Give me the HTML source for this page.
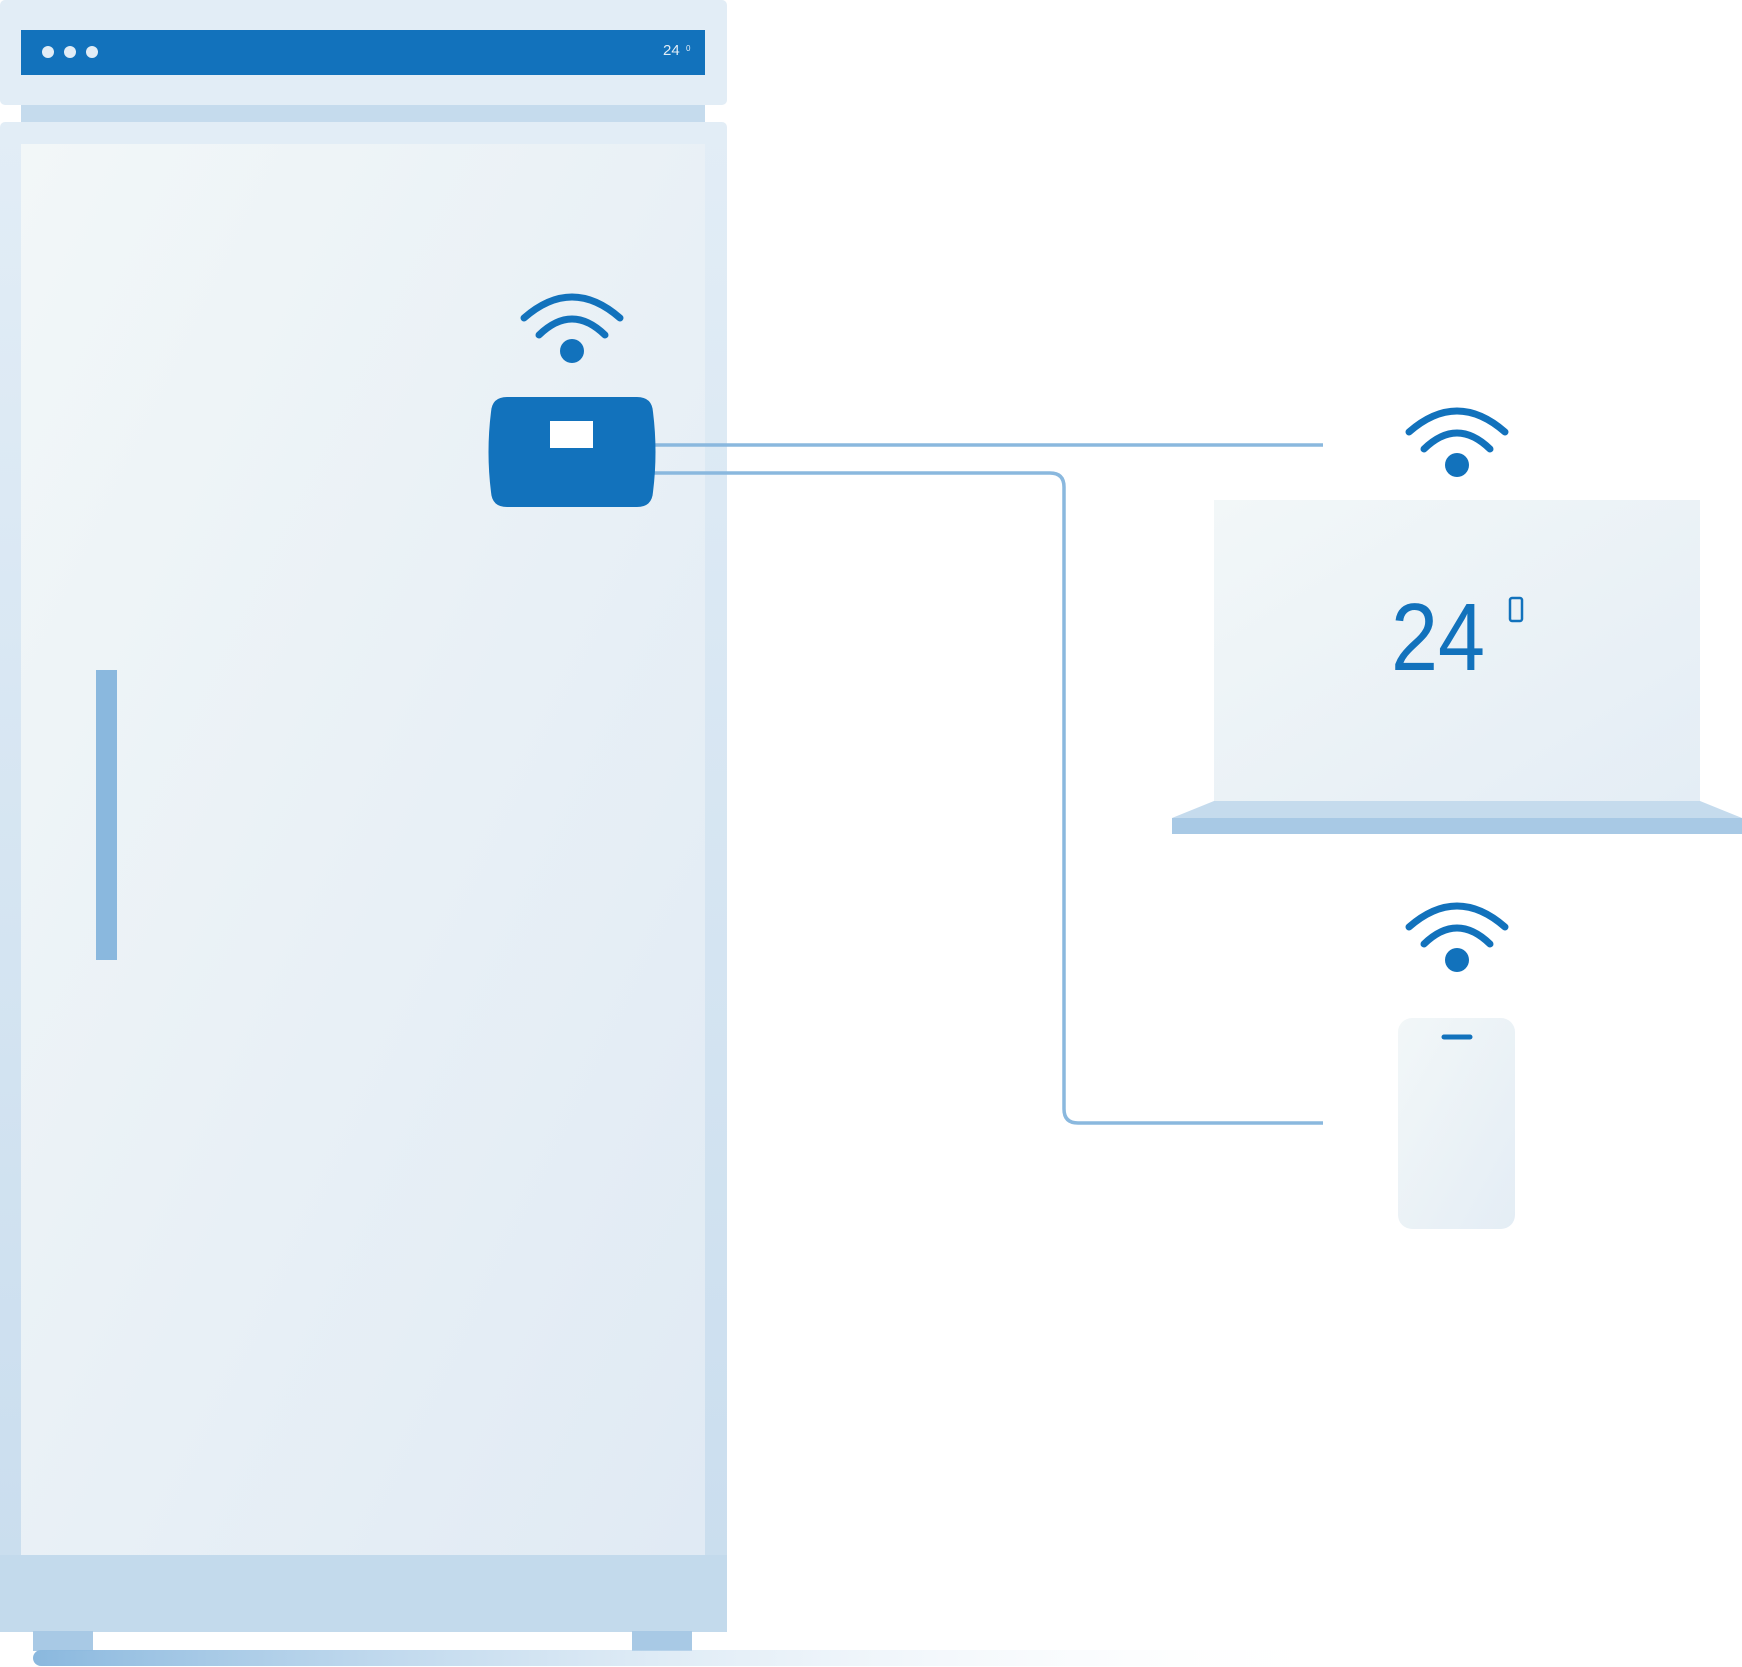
<!DOCTYPE html>
<html><head><meta charset="utf-8"><style>html,body{margin:0;padding:0;background:#fff}svg{display:block}</style></head>
<body>
<svg width="1742" height="1667" viewBox="0 0 1742 1667" xmlns="http://www.w3.org/2000/svg">
<defs>
<linearGradient id="frame" x1="0" y1="0" x2="0" y2="1"><stop offset="0" stop-color="#e2edf6"/><stop offset="1" stop-color="#c9ddee"/></linearGradient>
<linearGradient id="door" x1="0" y1="0" x2="1" y2="1"><stop offset="0" stop-color="#f2f7f8"/><stop offset="1" stop-color="#e0eaf4"/></linearGradient>
<linearGradient id="scr" x1="0" y1="0" x2="1" y2="1"><stop offset="0" stop-color="#f2f7f8"/><stop offset="1" stop-color="#e4edf5"/></linearGradient>
<linearGradient id="floor" x1="0" y1="0" x2="1" y2="0"><stop offset="0" stop-color="#8ab8de"/><stop offset="1" stop-color="#ffffff" stop-opacity="0"/></linearGradient>
<g id="wifi" fill="none" stroke="#1272bc" stroke-width="7" stroke-linecap="round">
<path d="M-48,-33 Q0,-75 48,-33"/><path d="M-33,-16 Q0,-48 33,-16"/><circle cx="0" cy="0" r="12" fill="#1272bc" stroke="none"/>
</g>
</defs>
<rect x="0" y="0" width="727" height="105" rx="5" fill="#e2edf6"/>
<rect x="21" y="30" width="684" height="45" fill="#1272bc"/>
<circle cx="48" cy="52" r="6" fill="#e2edf6"/><circle cx="70" cy="52" r="6" fill="#e2edf6"/><circle cx="92" cy="52" r="6" fill="#e2edf6"/>
<text x="663" y="55" font-family="Liberation Sans Narrow, Liberation Sans, sans-serif" font-size="15" fill="#e2edf6">24</text>
<text x="686" y="51" font-family="Liberation Sans, sans-serif" font-size="8" fill="#e2edf6">0</text>
<rect x="21" y="105" width="684" height="18" fill="#c5dbed"/>
<rect x="0" y="122" width="727" height="1510" rx="5" fill="url(#frame)"/>
<rect x="0" y="1555" width="727" height="77" fill="#c3daec"/>
<rect x="21" y="144" width="684" height="1411" fill="url(#door)"/>
<rect x="96" y="670" width="21" height="290" fill="#8ab8de"/>
<rect x="33" y="1631" width="60" height="20" fill="#a8c9e5"/>
<rect x="632" y="1631" width="60" height="20" fill="#a8c9e5"/>
<rect x="33" y="1650" width="1320" height="16" rx="8" fill="url(#floor)"/>
<g fill="none" stroke="#8ab8de" stroke-width="3.5">
<path d="M650,445 H1323"/>
<path d="M650,473 H1050 Q1064,473 1064,487 V1109 Q1064,1123 1078,1123 H1323"/>
</g>
<path d="M507,397 H637 Q652,397 653,412 Q658,452 653,492 Q652,507 637,507 H507 Q492,507 491,492 Q486,452 491,412 Q492,397 507,397 Z" fill="#1272bc"/>
<rect x="550" y="421" width="43" height="27" fill="#fff"/>
<use href="#wifi" x="572" y="351"/>
<use href="#wifi" x="1457" y="465"/>
<rect x="1214" y="500" width="486" height="301" fill="url(#scr)"/>
<polygon points="1214,801 1700,801 1742,818 1172,818" fill="#c5dbed"/>
<rect x="1172" y="818" width="570" height="16" fill="#a8c9e5"/>
<text x="1391" y="670" font-family="Liberation Sans Narrow, Liberation Sans, sans-serif" font-size="96" fill="#1272bc" textLength="94" lengthAdjust="spacingAndGlyphs">24</text>
<rect x="1510" y="598" width="12" height="23" rx="2" fill="none" stroke="#1272bc" stroke-width="2.5"/>
<use href="#wifi" x="1457" y="960"/>
<rect x="1398" y="1018" width="117" height="211" rx="14" fill="url(#scr)"/>
<line x1="1444" y1="1037" x2="1470" y2="1037" stroke="#1272bc" stroke-width="5" stroke-linecap="round"/>
</svg>
</body></html>
